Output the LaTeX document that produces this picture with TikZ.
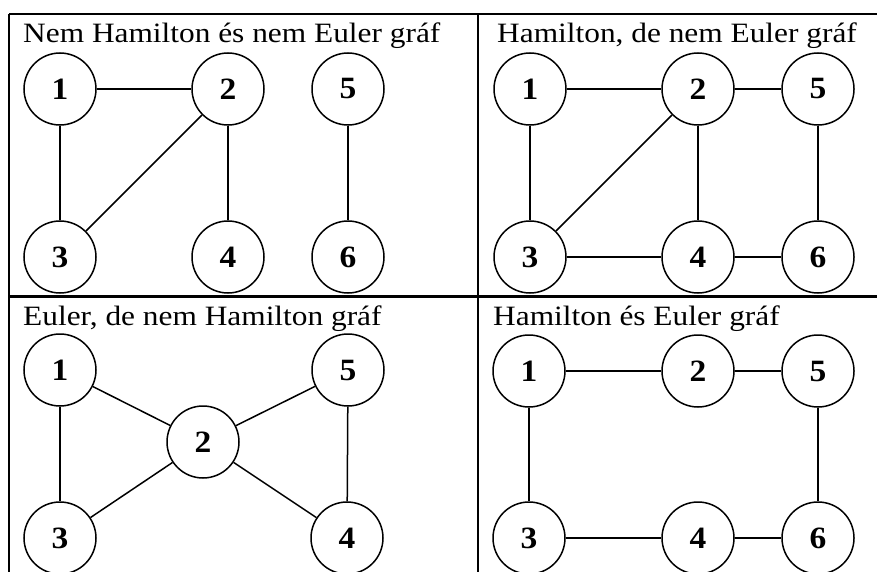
\documentclass[tikz,border=0pt]{standalone}
\usepackage{fontspec}
\setmainfont{Liberation Serif}
\begin{document}
\begin{tikzpicture}[x=1pt,y=-1pt,
  v/.style={circle,draw,line width=1.5pt,minimum size=72pt,inner sep=0pt,
    font=\fontsize{31}{31}\selectfont\bfseries},
  e/.style={line width=1.5pt},
  ttl/.style={anchor=base west,inner sep=0pt,font=\fontsize{28}{28}\selectfont},
  frame/.style={line width=2.2pt}]
\useasboundingbox (0,0) rectangle (877,572);
\clip (0,0) rectangle (877,572);
% frame
\coordinate (tl) at (9,14);
\coordinate (tr) at (877,14);
\coordinate (ml) at (9,296.5);
\coordinate (mr) at (877,296.5);
\coordinate (bl) at (9,572);
\coordinate (tm) at (478,14);
\coordinate (bm) at (478,572);
\draw[frame] (tl) -- (tr);
\draw[frame] (ml) -- (mr);
\draw[frame] (tl) -- (bl);
\draw[frame] (tm) -- (bm);
% titles
\node[ttl] (t1) at (23,43) {\scalebox{1.12}[1]{Nem Hamilton és nem Euler gráf}};
\node[ttl] (t2) at (497,43) {\scalebox{1.12}[1]{Hamilton, de nem Euler gráf}};
\node[ttl] (t3) at (23,325) {\scalebox{1.12}[1]{Euler, de nem Hamilton gráf}};
\node[ttl] (t4) at (493,325) {\scalebox{1.12}[1]{Hamilton és Euler gráf}};
% panel A
\node[v] (a1) at (60,89) {\scalebox{1.08}[1]{1}};
\node[v] (a2) at (228,89) {\scalebox{1.08}[1]{2}};
\node[v] (a5) at (348,89) {\scalebox{1.08}[1]{5}};
\node[v] (a3) at (60,257) {\scalebox{1.08}[1]{3}};
\node[v] (a4) at (228,257) {\scalebox{1.08}[1]{4}};
\node[v] (a6) at (348,257) {\scalebox{1.08}[1]{6}};
\draw[e] (a1) -- (a2);
\draw[e] (a1) -- (a3);
\draw[e] (a2) -- (a3);
\draw[e] (a2) -- (a4);
\draw[e] (a5) -- (a6);
% panel B
\node[v] (b1) at (530,89) {\scalebox{1.08}[1]{1}};
\node[v] (b2) at (698,89) {\scalebox{1.08}[1]{2}};
\node[v] (b5) at (818,89) {\scalebox{1.08}[1]{5}};
\node[v] (b3) at (530,257) {\scalebox{1.08}[1]{3}};
\node[v] (b4) at (698,257) {\scalebox{1.08}[1]{4}};
\node[v] (b6) at (818,257) {\scalebox{1.08}[1]{6}};
\draw[e] (b1) -- (b2);
\draw[e] (b2) -- (b5);
\draw[e] (b1) -- (b3);
\draw[e] (b2) -- (b3);
\draw[e] (b2) -- (b4);
\draw[e] (b3) -- (b4);
\draw[e] (b4) -- (b6);
\draw[e] (b5) -- (b6);
% panel C
\node[v] (c1) at (60,370) {\scalebox{1.08}[1]{1}};
\node[v] (c2) at (203,442) {\scalebox{1.08}[1]{2}};
\node[v] (c5) at (348,370) {\scalebox{1.08}[1]{5}};
\node[v] (c3) at (60,538) {\scalebox{1.08}[1]{3}};
\node[v] (c4) at (347,538) {\scalebox{1.08}[1]{4}};
\draw[e] (c1) -- (c2);
\draw[e] (c2) -- (c5);
\draw[e] (c1) -- (c3);
\draw[e] (c2) -- (c3);
\draw[e] (c2) -- (c4);
\draw[e] (c5) -- (c4);
% panel D
\node[v] (d1) at (529,371) {\scalebox{1.08}[1]{1}};
\node[v] (d2) at (698,371) {\scalebox{1.08}[1]{2}};
\node[v] (d5) at (818,371) {\scalebox{1.08}[1]{5}};
\node[v] (d3) at (529,538) {\scalebox{1.08}[1]{3}};
\node[v] (d4) at (698,538) {\scalebox{1.08}[1]{4}};
\node[v] (d6) at (818,538) {\scalebox{1.08}[1]{6}};
\draw[e] (d1) -- (d2);
\draw[e] (d2) -- (d5);
\draw[e] (d1) -- (d3);
\draw[e] (d3) -- (d4);
\draw[e] (d4) -- (d6);
\draw[e] (d5) -- (d6);
\end{tikzpicture}
\end{document}
